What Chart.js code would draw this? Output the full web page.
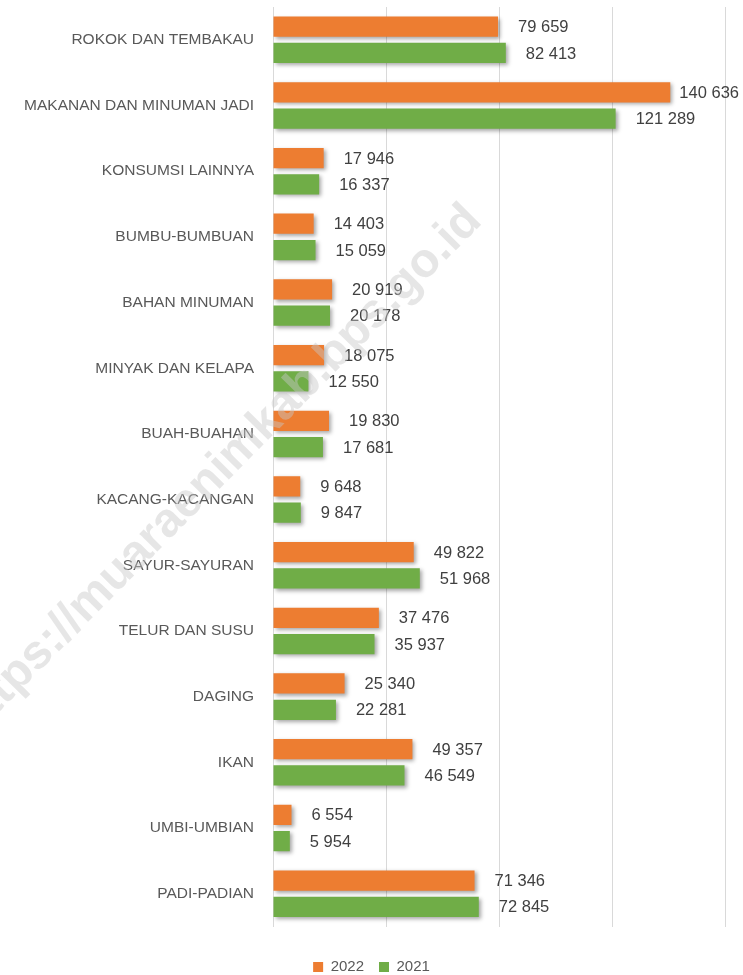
<!DOCTYPE html>
<html>
<head>
<meta charset="utf-8">
<script src="https://cdn.jsdelivr.net/npm/chart.js@4"></script>
<style>
  html, body { margin: 0; padding: 0; background: #ffffff; }
  #wrap { width: 743px; height: 975px; position: relative; }
</style>
</head>
<body>
<div id="wrap"><canvas id="chart"></canvas></div>
<script>
// kategori pengeluaran, urutan dari atas ke bawah
const categories = [
  'ROKOK DAN TEMBAKAU', 'MAKANAN DAN MINUMAN JADI', 'KONSUMSI LAINNYA', 'BUMBU-BUMBUAN',
  'BAHAN MINUMAN', 'MINYAK DAN KELAPA', 'BUAH-BUAHAN', 'KACANG-KACANGAN',
  'SAYUR-SAYURAN', 'TELUR DAN SUSU', 'DAGING', 'IKAN', 'UMBI-UMBIAN', 'PADI-PADIAN'
];
const values2022 = [79659, 140636, 17946, 14403, 20919, 18075, 19830, 9648, 49822, 37476, 25340, 49357, 6554, 71346];
const values2021 = [82413, 121289, 16337, 15059, 20178, 12550, 17681, 9847, 51968, 35937, 22281, 46549, 5954, 72845];
const xTicks = [0, 40000, 80000, 120000, 160000];
const watermark = 'https://muaraenimkab.bps.go.id';

const FONT = '"Liberation Sans", Arial, sans-serif';
const fmt = v => String(v).replace(/\B(?=(\d{3})+(?!\d))/g, ' ');

// bayangan tipis di bawah batang, seperti di Excel
const barShadow = {
  id: 'barShadow',
  beforeDatasetsDraw(chart) {
    const ctx = chart.ctx;
    ctx.save();
    ctx.shadowColor = 'rgba(0,0,0,0.35)';
    ctx.shadowBlur = 4;
    ctx.shadowOffsetX = 2;
    ctx.shadowOffsetY = 2;
  },
  afterDatasetsDraw(chart) {
    chart.ctx.restore();
  }
};

const valueLabels = {
  id: 'valueLabels',
  afterDatasetsDraw(chart) {
    const ctx = chart.ctx;
    ctx.save();
    ctx.font = '16.5px ' + FONT;
    ctx.fillStyle = '#404040';
    ctx.textBaseline = 'middle';
    ctx.textAlign = 'left';
    chart.data.datasets.forEach((ds, i) => {
      chart.getDatasetMeta(i).data.forEach((bar, j) => {
        const txt = fmt(ds.data[j]);
        const w = ctx.measureText(txt).width;
        let x = bar.x + 20;
        if (x + w > chart.width - 4) x = chart.width - 4 - w;
        ctx.fillText(txt, x, bar.y + 1);
      });
    });
    ctx.restore();
  }
};

const watermarkText = {
  id: 'watermarkText',
  afterDraw(chart) {
    const ctx = chart.ctx;
    ctx.save();
    ctx.translate(474, 213);
    ctx.rotate(-Math.atan2(480, 475));
    ctx.font = 'bold 48px ' + FONT;
    ctx.fillStyle = 'rgba(200,200,200,0.45)';
    ctx.textAlign = 'right';
    ctx.textBaseline = 'middle';
    ctx.fillText(watermark, 0, 0);
    ctx.restore();
  }
};

new Chart(document.getElementById('chart'), {
  type: 'bar',
  data: {
    labels: categories,
    datasets: [
      { label: '2022', data: values2022, backgroundColor: '#ED7D31', categoryPercentage: 0.8, barPercentage: 0.77 },
      { label: '2021', data: values2021, backgroundColor: '#70AD47', categoryPercentage: 0.8, barPercentage: 0.77 }
    ]
  },
  options: {
    indexAxis: 'y',
    responsive: true,
    maintainAspectRatio: false,
    animation: false,
    layout: { padding: { top: 7, left: 18, right: 18, bottom: -9.5 } },
    plugins: {
      legend: {
        position: 'bottom',
        labels: {
          boxWidth: 10, boxHeight: 10, padding: 15,
          color: '#595959',
          font: { family: FONT, size: 15 }
        }
      },
      tooltip: { enabled: false }
    },
    scales: {
      x: {
        min: 0, max: 160000,
        afterBuildTicks: s => { s.ticks = xTicks.map(v => ({ value: v })); },
        afterFit: s => { s.height = 18; },
        ticks: { display: false },
        grid: { color: '#d9d9d9', drawTicks: false },
        border: { display: false }
      },
      y: {
        afterFit: s => { s.width = 255; s.paddingTop = 0; s.paddingBottom = 0; },
        ticks: { color: '#595959', padding: 19, font: { family: FONT, size: 15.5 } },
        grid: { display: false, drawTicks: false },
        border: { display: false }
      }
    }
  },
  plugins: [barShadow, valueLabels, watermarkText]
});
</script>
</body>
</html>
